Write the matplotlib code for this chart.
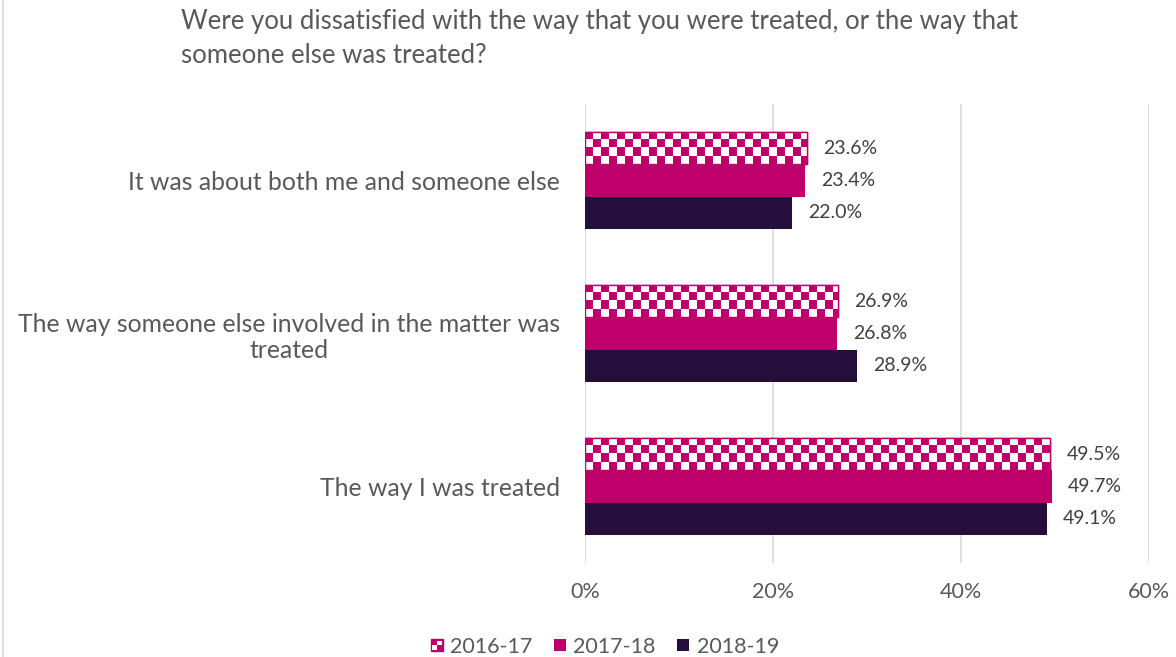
import numpy as np
import matplotlib
matplotlib.use("Agg")
import matplotlib.pyplot as plt
from matplotlib.patches import Rectangle
from matplotlib.legend_handler import HandlerBase
from matplotlib.colors import ListedColormap

categories = ["The way I was treated",
              "The way someone else involved in the matter was\ntreated",
              "It was about both me and someone else"]
series_names = ["2016-17", "2017-18", "2018-19"]
v2016 = [49.5, 26.9, 23.6]
v2017 = [49.7, 26.8, 23.4]
v2018 = [49.1, 28.9, 22.0]
xticks = [0, 20, 40, 60]
xtick_labels = ["0%", "20%", "40%", "60%"]
title = "Were you dissatisfied with the way that you were treated, or the way that\nsomeone else was treated?"

MAG = "#C0006A"
DARK = "#250D3C"
GREY = "#595959"
FONT = "Lato"
plt.rcParams["font.family"] = [FONT, "DejaVu Sans"]

W, H, DPI = 1176, 657, 100
fig = plt.figure(figsize=(W / DPI, H / DPI), dpi=DPI)
ax_left, ax_right, ax_top, ax_bot = 585, 1149, 104, 563
ax = fig.add_axes([ax_left / W, 1 - ax_bot / H, (ax_right - ax_left) / W, (ax_bot - ax_top) / H])
ax.set_xlim(0, 60)
ax.set_ylim(-0.5, 2.5)

bh = 0.212
y = np.arange(len(categories))
offs = [bh, 0, -bh]
colors = [MAG, MAG, DARK]
data = [v2016, v2017, v2018]

px_x = 60 / (ax_right - ax_left)
cell_px = 8.0
cw = cell_px * px_x
cmap = ListedColormap([MAG, "white"])

for si, (vals, off, col) in enumerate(zip(data, offs, colors)):
    if si == 0:
        bars = ax.barh(y + off, vals, height=bh, color="white", edgecolor=MAG, linewidth=1.0, zorder=3)
        for b in bars:
            x0, y0 = b.get_x(), b.get_y()
            wv, hv = b.get_width(), b.get_height()
            nx = int(np.ceil(wv / cw)) + 1
            ny = 4
            arr = np.indices((ny, nx)).sum(axis=0) % 2
            im = ax.imshow(arr, cmap=cmap, extent=(x0, x0 + nx * cw, y0, y0 + hv),
                           origin="upper", interpolation="nearest", aspect="auto", zorder=3.5)
            im.set_clip_path(b)
            ax.add_patch(Rectangle((x0, y0), wv, hv, fill=False, edgecolor=MAG, linewidth=1.0, zorder=4))
    else:
        ax.barh(y + off, vals, height=bh, color=col, edgecolor="none", zorder=3)
    for yy, v in zip(y + off, vals):
        ax.text(v + 16 * px_x, yy, f"{v:.1f}%", ha="left", va="center", fontsize=14,
                color="#404040", zorder=5)

ax.set_xticks(xticks)
ax.set_xticklabels(xtick_labels, fontsize=15.5, color=GREY)
ax.set_yticks(y)
ax.set_yticklabels(categories, fontsize=17.8, color=GREY, multialignment="center")
ax.tick_params(axis="x", length=0, pad=14)
ax.tick_params(axis="y", length=0, pad=18)
ax.grid(axis="x", color="#D9D9D9", linewidth=1.2, zorder=0)
ax.set_axisbelow(True)
for s in ax.spines.values():
    s.set_visible(False)
ax.axvline(0, color="#D9D9D9", linewidth=1.2, zorder=2)

fig.text(181 / W, 1 - 38.5 / H, title, ha="left", va="center", fontsize=18.5, color=GREY,
         linespacing=1.42)

# outer border
fig.add_artist(plt.Line2D([2.5 / W, 2.5 / W], [0, 1], color="#D9D9D9", linewidth=1.2,
                          transform=fig.transFigure))


class CheckerHandler(HandlerBase):
    def create_artists(self, legend, orig_handle, xdescent, ydescent, width, height, fontsize, trans):
        s = min(width, height)
        x0 = -xdescent + (width - s) / 2
        y0 = -ydescent + (height - s) / 2
        arts = [Rectangle((x0, y0), s, s, facecolor=MAG, edgecolor=MAG, transform=trans)]
        h = s / 2
        arts.append(Rectangle((x0 + h, y0 + h), h * 0.8, h * 0.8, facecolor="white",
                              edgecolor="none", transform=trans))
        arts.append(Rectangle((x0 + h * 0.2, y0 + h * 0.2), h * 0.8, h * 0.8, facecolor="white",
                              edgecolor="none", transform=trans))
        return arts


class SquareHandler(HandlerBase):
    def create_artists(self, legend, orig_handle, xdescent, ydescent, width, height, fontsize, trans):
        s = min(width, height)
        x0 = -xdescent + (width - s) / 2
        y0 = -ydescent + (height - s) / 2
        return [Rectangle((x0, y0), s, s, facecolor=orig_handle.get_facecolor(), edgecolor="none",
                          transform=trans)]


h1 = Rectangle((0, 0), 1, 1, facecolor=MAG)
h2 = Rectangle((0, 0), 1, 1, facecolor=MAG)
h3 = Rectangle((0, 0), 1, 1, facecolor=DARK)
leg = fig.legend([h1, h2, h3], series_names, loc="center", bbox_to_anchor=(605 / W, 1 - 647 / H),
                 ncol=3, frameon=False, fontsize=15.5, handlelength=0.55, handleheight=0.55,
                 handletextpad=0.35, columnspacing=1.0,
                 handler_map={h1: CheckerHandler(), h2: SquareHandler(), h3: SquareHandler()})
for t in leg.get_texts():
    t.set_color(GREY)

fig.savefig("out.png", dpi=DPI)
